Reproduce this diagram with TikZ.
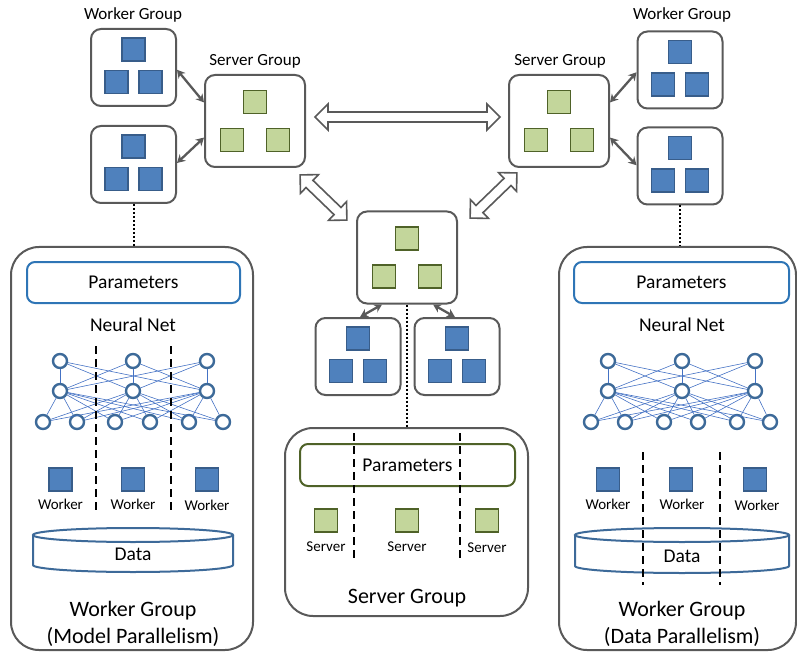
\documentclass[tikz,border=0pt]{standalone}
\usepackage{fontspec}
\setmainfont{Carlito}
\usetikzlibrary{arrows.meta,calc}
\definecolor{gline}{HTML}{595959}
\definecolor{wfill}{HTML}{4F81BD}
\definecolor{wdraw}{HTML}{385D8A}
\definecolor{sfill}{HTML}{C3D69B}
\definecolor{sdraw}{HTML}{4F6228}
\definecolor{pblue}{HTML}{2E75B6}
\definecolor{nncirc}{HTML}{3D6A99}
\definecolor{nnedge}{HTML}{4472C4}
\begin{document}
\begin{tikzpicture}[x=1pt,y=-1pt,
  gbox/.style={draw=gline, line width=2pt, rounded corners=10pt, fill=white, inner sep=0pt},
  wgsize/.style={minimum width=85pt, minimum height=77pt},
  sgsize/.style={minimum width=100pt, minimum height=92pt},
  wsq/.style={draw=wdraw, fill=wfill, line width=1.5pt, minimum size=23pt, inner sep=0pt},
  ssq/.style={draw=sdraw, fill=sfill, line width=1.5pt, minimum size=23pt, inner sep=0pt},
  conn/.style={draw=gline, line width=2.3pt, {Stealth[length=8pt,width=9pt]}-{Stealth[length=8pt,width=9pt]}},
  dotln/.style={draw=black, line width=2pt, dash pattern=on 2pt off 2pt},
  dashln/.style={draw=black, line width=2pt, dash pattern=on 8pt off 5pt},
  harrow/.style={draw=gline, line width=1.6pt, fill=white, line join=miter},
  panel/.style={draw=gline, line width=2pt, rounded corners=28pt, inner sep=0pt},
  pbox/.style={line width=2pt, rounded corners=8pt, inner sep=0pt, font=\fontsize{19.5}{22}\selectfont},
  nnode/.style={circle, draw=nncirc, fill=white, line width=2.4pt, minimum size=14pt, inner sep=0pt},
  nnln/.style={draw=nnedge, line width=0.6pt},
  cyl/.style={draw=nncirc, line width=2pt},
  toplbl/.style={font=\fontsize{17}{20}\selectfont, inner sep=0pt},
  midlbl/.style={font=\fontsize{19.5}{22}\selectfont, inner sep=0pt},
  smlbl/.style={font=\fontsize{15}{18}\selectfont, inner sep=0pt},
  biglbl/.style={font=\fontsize{22}{27}\selectfont, inner sep=0pt, align=center},
  wtri/.pic={\node[wsq] (-t) at (0,-18) {}; \node[wsq] (-l) at (-17,14.5) {}; \node[wsq] (-r) at (17,14.5) {};},
  stri/.pic={\node[ssq] (-t) at (0,-19) {}; \node[ssq] (-l) at (-23,19) {}; \node[ssq] (-r) at (23,19) {};},
  dblarrow/.pic={\draw[harrow] (-#1,0) -- (-#1+13,-13) -- (-#1+13,-5) -- (#1-13,-5) -- (#1-13,-13) -- (#1,0) -- (#1-13,13) -- (#1-13,5) -- (-#1+13,5) -- (-#1+13,13) -- cycle;}
]
\useasboundingbox (0,0) rectangle (797,652);

% ---------- top labels ----------
\node[toplbl] (lblWL) at (133,15) {Worker Group};
\node[toplbl] (lblSL) at (255,61) {Server Group};
\node[toplbl] (lblSR) at (560,61) {Server Group};
\node[toplbl] (lblWR) at (682,15) {Worker Group};

% ---------- groups ----------
\node[gbox,wgsize] (wgL1) at (133.5,67.5) {};
\pic (wL1) at (133.5,67.5) {wtri};
\node[gbox,wgsize] (wgL2) at (133.5,164.5) {};
\pic (wL2) at (133.5,164.5) {wtri};
\node[gbox,sgsize] (sgL) at (255,121) {};
\pic (sL) at (255,121) {stri};

\node[gbox,sgsize] (sgR) at (559,121) {};
\pic (sR) at (559,121) {stri};
\node[gbox,wgsize] (wgR1) at (680,70) {};
\pic (wR1) at (680,70) {wtri};
\node[gbox,wgsize] (wgR2) at (680,166) {};
\pic (wR2) at (680,166) {wtri};

\node[gbox,sgsize] (sgC) at (407,257.5) {};
\pic (sC) at (407,257.5) {stri};
\node[gbox,wgsize] (wgC1) at (358,356.5) {};
\pic (wC1) at (358,356.5) {wtri};
\node[gbox,wgsize] (wgC2) at (457,356.5) {};
\pic (wC2) at (457,356.5) {wtri};

% ---------- small connectors ----------
\draw[conn] (wgL1.-3) -- (sgL.160);
\draw[conn] (wgL2.2) -- (sgL.-162);
\draw[conn] (sgR.20) -- (wgR1.183);
\draw[conn] (sgR.-18) -- (wgR2.179);
\draw[conn] (sgC.242) -- (wgC1.87);
\draw[conn] (sgC.-61) -- (wgC2.93);

% ---------- hollow double arrows ----------
\pic (haH) at (407.5,117) {dblarrow=92.5};
\pic[rotate=-44] (haL) at (323.5,197.5) {dblarrow=32.5};
\pic[rotate=44] (haR) at (493.5,195.5) {dblarrow=32.5};

% ---------- panels ----------
\node[panel, minimum width=242pt, minimum height=403pt] (pL) at (132,448.5) {};
\node[panel, minimum width=237pt, minimum height=403pt] (pR) at (677.5,448.5) {};
\node[panel, minimum width=243pt, minimum height=188pt] (pC) at (406.5,522) {};

% dotted links
\draw[dotln] (wgL2.south) -- (wgL2.south |- pL.north);
\draw[dotln] (wgR2.south) -- (wgR2.south |- pR.north);
\draw[dotln] (sgC.south) -- (sgC.south |- pC.north);

% ---------- left panel ----------
\node[pbox, draw=pblue, minimum width=213pt, minimum height=41pt] (parL) at (133.5,282.5) {Parameters};
\node[midlbl] (nnL) at (133,325) {Neural Net};
\foreach \x [count=\i] in {60,133,207} {
  \node[nnode] (nL-t\i) at (\x,361) {};
  \node[nnode] (nL-m\i) at (\x,391) {};
}
\foreach \x [count=\i] in {43,77,115,150,189,223} {
  \node[nnode] (nL-b\i) at (\x,422) {};
}
\foreach \i in {1,2,3} {
  \foreach \j in {1,2,3} { \draw[nnln] (nL-t\i) -- (nL-m\j); }
  \foreach \j in {1,...,6} { \draw[nnln] (nL-m\i) -- (nL-b\j); }
}
\node[wsq] (wkL1) at (60.5,479.5) {};
\node[wsq] (wkL2) at (133,479.5) {};
\node[wsq] (wkL3) at (207,479.5) {};
\node[smlbl] (wkLl1) at (60.5,504) {Worker};
\node[smlbl] (wkLl2) at (133,504) {Worker};
\node[smlbl] (wkLl3) at (207,505) {Worker};
\draw[cyl] (33,535) -- (33,565) .. controls (33,568.87) and (77.8,572) .. (133,572) .. controls (188.2,572) and (233,568.87) .. (233,565) -- (233,535);
\draw[cyl] (133,535) ellipse[x radius=100pt, y radius=7pt];
\node[midlbl] (dataL) at (133,554) {Data};
\node[biglbl] (lblML) at (133,623.5) {Worker Group\\(Model Parallelism)};
\coordinate (dLa1) at (96,346); \coordinate (dLb1) at (96,512);
\coordinate (dLa2) at (171,346); \coordinate (dLb2) at (171,512);
\draw[dashln] (dLa1) -- (dLb1);
\draw[dashln] (dLa2) -- (dLb2);

% ---------- center panel ----------
\node[pbox, draw=sdraw, minimum width=215pt, minimum height=42pt] (parC) at (407.5,465) {Parameters};
\node[ssq] (svC1) at (326,520.5) {};
\node[ssq] (svC2) at (407,520.5) {};
\node[ssq] (svC3) at (487,520.5) {};
\node[smlbl] (svCl1) at (326,547) {Server};
\node[smlbl] (svCl2) at (407,547) {Server};
\node[smlbl] (svCl3) at (487,548) {Server};
\node[biglbl] (lblSC) at (407,598) {Server Group};
\coordinate (dCa1) at (354,433); \coordinate (dCb1) at (354,562);
\coordinate (dCa2) at (460,433); \coordinate (dCb2) at (460,562);
\draw[dashln] (dCa1) -- (dCb1);
\draw[dashln] (dCa2) -- (dCb2);

% ---------- right panel ----------
\node[pbox, draw=pblue, minimum width=215pt, minimum height=41pt] (parR) at (681.5,282.5) {Parameters};
\node[midlbl] (nnR) at (682,325) {Neural Net};
\foreach \x [count=\i] in {608,682,755} {
  \node[nnode] (nR-t\i) at (\x,361) {};
  \node[nnode] (nR-m\i) at (\x,391) {};
}
\foreach \x [count=\i] in {591,625,664,698,737,770} {
  \node[nnode] (nR-b\i) at (\x,422) {};
}
\foreach \i in {1,2,3} {
  \foreach \j in {1,2,3} { \draw[nnln] (nR-t\i) -- (nR-m\j); }
  \foreach \j in {1,...,6} { \draw[nnln] (nR-m\i) -- (nR-b\j); }
}
\node[wsq] (wkR1) at (608,479.5) {};
\node[wsq] (wkR2) at (681,479.5) {};
\node[wsq] (wkR3) at (755,479.5) {};
\node[smlbl] (wkRl1) at (608,504) {Worker};
\node[smlbl] (wkRl2) at (682,504) {Worker};
\node[smlbl] (wkRl3) at (757,505) {Worker};
\draw[cyl] (575,535) -- (575,566) .. controls (575,569.87) and (622.9,573) .. (682,573) .. controls (741.1,573) and (789,569.87) .. (789,566) -- (789,535);
\draw[cyl] (682,535) ellipse[x radius=107pt, y radius=7pt];
\node[midlbl] (dataR) at (682,556) {Data};
\node[biglbl] (lblDR) at (682,623.5) {Worker Group\\(Data Parallelism)};
\coordinate (dRa1) at (643,452); \coordinate (dRb1) at (643,585);
\coordinate (dRa2) at (720,452); \coordinate (dRb2) at (720,585);
\draw[dashln] (dRa1) -- (dRb1);
\draw[dashln] (dRa2) -- (dRb2);
\end{tikzpicture}
\end{document}
